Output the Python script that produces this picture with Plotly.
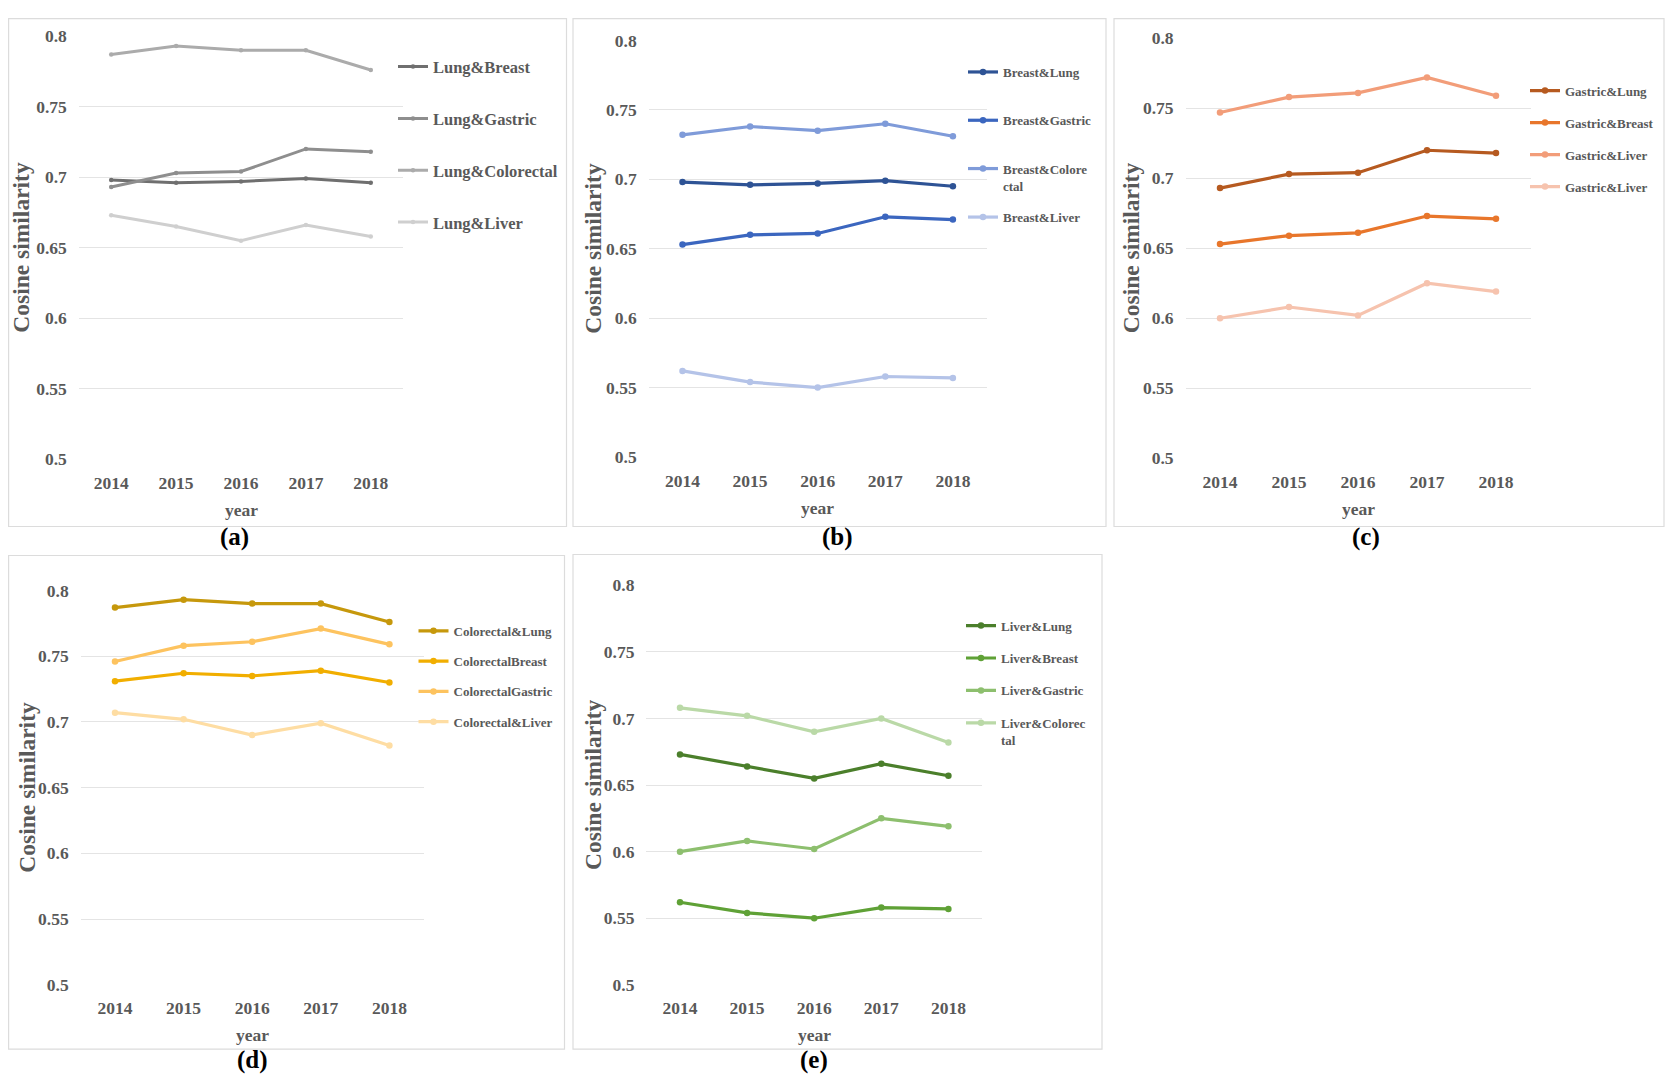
import plotly.graph_objects as go

# page layout: browser body margin is 8px; the figure starts at (8, 8)
OFF = 8
W, H = 1657, 1075
# vertical calibration (maps reference pixel rows to page rows)
Y_A, Y_B = 1.0183, -10.5

# ---------------- data ----------------
years = ["2014", "2015", "2016", "2017", "2018"]
y_tick_vals = [0.5, 0.55, 0.6, 0.65, 0.7, 0.75, 0.8]
y_tick_text = ["0.5", "0.55", "0.6", "0.65", "0.7", "0.75", "0.8"]

lung_names = ["Lung&Breast", "Lung&Gastric", "Lung&Colorectal", "Lung&Liver"]
lung_breast = [0.698, 0.696, 0.697, 0.699, 0.696]
lung_gastric = [0.693, 0.703, 0.704, 0.720, 0.718]
lung_colorectal = [0.787, 0.793, 0.790, 0.790, 0.776]
lung_liver = [0.673, 0.665, 0.655, 0.666, 0.658]

breast_names = ["Breast&Lung", "Breast&Gastric", "Breast&Colore<br>ctal", "Breast&Liver"]
breast_lung = [0.698, 0.696, 0.697, 0.699, 0.695]
breast_gastric = [0.653, 0.660, 0.661, 0.673, 0.671]
breast_colorectal = [0.732, 0.738, 0.735, 0.740, 0.731]
breast_liver = [0.562, 0.554, 0.550, 0.558, 0.557]

gastric_names = ["Gastric&Lung", "Gastric&Breast", "Gastric&Liver", "Gastric&Liver"]
gastric_lung = [0.693, 0.703, 0.704, 0.720, 0.718]
gastric_breast = [0.653, 0.659, 0.661, 0.673, 0.671]
gastric_liver_1 = [0.747, 0.758, 0.761, 0.772, 0.759]
gastric_liver_2 = [0.600, 0.608, 0.602, 0.625, 0.619]

colorectal_names = ["Colorectal&Lung", "ColorectalBreast", "ColorectalGastric", "Colorectal&Liver"]
colorectal_lung = [0.787, 0.793, 0.790, 0.790, 0.776]
colorectal_breast = [0.731, 0.737, 0.735, 0.739, 0.730]
colorectal_gastric = [0.746, 0.758, 0.761, 0.771, 0.759]
colorectal_liver = [0.707, 0.702, 0.690, 0.699, 0.682]

liver_names = ["Liver&Lung", "Liver&Breast", "Liver&Gastric", "Liver&Colorec<br>tal"]
liver_lung = [0.673, 0.664, 0.655, 0.666, 0.657]
liver_breast = [0.562, 0.554, 0.550, 0.558, 0.557]
liver_gastric = [0.600, 0.608, 0.602, 0.625, 0.619]
liver_colorectal = [0.708, 0.702, 0.690, 0.700, 0.682]

panel_labels = ["(a)", "(b)", "(c)", "(d)", "(e)"]

# ---------------- styles ----------------
FONT = "Liberation Serif, Times New Roman, serif"
TXT = "#595959"
GRID = "#e4e4e4"
BOX = "#dcdcdc"


def px(x):
    return (x - OFF) / W


def py(y, clamp=False):
    v = 1 - (Y_A * y + Y_B - OFF) / H
    if clamp:
        v = min(max(v, 0.6 / H), 1 - 0.6 / H)
    return v


panels = [
    dict(series=[lung_breast, lung_gastric, lung_colorectal, lung_liver], names=lung_names,
         colors=["#6f6f6f", "#8e8e8e", "#ababab", "#cfcfcf"],
         x0=78.75, x1=403.25, ytop=36.3, ybot=459.7,
         box=(8.6, 6, 566.5, 527), ytitle_x=21, label=(234, 538),
         legends=[("legend", 393, 49.5, 27.4, 16.5, [0, 1, 2, 3])], msize=4.5, lw=3.0),
    dict(series=[breast_lung, breast_gastric, breast_colorectal, breast_liver], names=breast_names,
         colors=["#2e5395", "#3b66bf", "#7f9bd9", "#b4c3e8"],
         x0=648.7, x1=986.7, ytop=40.6, ybot=457.5,
         box=(573, 6, 1106, 527), ytitle_x=593, label=(837, 538),
         legends=[("legend2", 963, 57.2, 28.4, 13, [0, 1, 2]),
                  ("legend6", 963, 202.4, 28.4, 13, [3])], msize=6.5, lw=3.2),
    dict(series=[gastric_lung, gastric_breast, gastric_liver_1, gastric_liver_2], names=gastric_names,
         colors=["#b65a20", "#e8762b", "#f29d79", "#f6c3ae"],
         x0=1185.5, x1=1530.5, ytop=38.5, ybot=458.6,
         box=(1114, 6, 1664, 527), ytitle_x=1131, label=(1366, 538),
         legends=[("legend3", 1525, 75.8, 12.1, 13, [0, 1, 2, 3])], msize=6.5, lw=3.2),
    dict(series=[colorectal_lung, colorectal_breast, colorectal_gastric, colorectal_liver], names=colorectal_names,
         colors=["#c6980c", "#f1ae00", "#fdc35f", "#fedda3"],
         x0=80.7, x1=423.7, ytop=591.0, ybot=985.6,
         box=(8.6, 556, 564.5, 1050), ytitle_x=27, label=(252.5, 1061),
         legends=[("legend4", 413.5, 616.4, 10.4, 13, [0, 1, 2, 3])], msize=6.5, lw=3.2),
    dict(series=[liver_lung, liver_breast, liver_gastric, liver_colorectal], names=liver_names,
         colors=["#4b7f2b", "#5fa136", "#8dbf6e", "#bad9a7"],
         x0=646.45, x1=981.95, ytop=585.8, ybot=985.6,
         box=(573, 555, 1102, 1050), ytitle_x=593, label=(814, 1061),
         legends=[("legend5", 961, 611.2, 12.5, 13, [0, 1, 2, 3])], msize=6.5, lw=3.2),
]

fig = go.Figure()
shapes = []
annotations = []
layout_updates = {}

for i, p in enumerate(panels):
    n = i + 1
    xa = "x" if n == 1 else f"x{n}"
    ya = "y" if n == 1 else f"y{n}"
    leg_of = {}
    for lid, lx, ly, gap, fsz, idxs in p["legends"]:
        for k in idxs:
            leg_of[k] = lid
        layout_updates[lid] = dict(
            x=px(lx), y=py(ly), xanchor="left", yanchor="top",
            bgcolor="rgba(0,0,0,0)", borderwidth=0, tracegroupgap=gap,
            valign="top", itemwidth=30,
            font=dict(family=FONT, size=fsz, color=TXT, weight="bold"))
    for j, (vals, name, col) in enumerate(zip(p["series"], p["names"], p["colors"])):
        fig.add_trace(go.Scatter(
            x=years, y=vals, name=name, mode="lines+markers",
            line=dict(color=col, width=p["lw"]),
            marker=dict(color=col, size=p["msize"], symbol="circle"),
            xaxis=xa, yaxis=ya, legend=leg_of[j], legendgroup=f"g{n}_{j}",
            cliponaxis=False,
        ))
    xkey = "xaxis" if n == 1 else f"xaxis{n}"
    ykey = "yaxis" if n == 1 else f"yaxis{n}"
    layout_updates[xkey] = dict(
        domain=[px(p["x0"]), px(p["x1"])], anchor=ya, type="category",
        range=[-0.5, 4.5], showgrid=False, zeroline=False, showline=False,
        ticks="", ticklabelstandoff=11,
        tickfont=dict(family=FONT, size=17.5, color=TXT, weight="bold"),
        fixedrange=True)
    layout_updates[ykey] = dict(
        domain=[py(p["ybot"]), py(p["ytop"])], anchor=xa,
        range=[0.5, 0.8], tickvals=y_tick_vals, ticktext=y_tick_text,
        showgrid=True, gridcolor=GRID, gridwidth=1.2, zeroline=False,
        showline=False, ticks="", ticklabelstandoff=11,
        tickfont=dict(family=FONT, size=17.5, color=TXT, weight="bold"),
        fixedrange=True)
    bx0, by0, bx1, by1 = p["box"]
    shapes.append(dict(type="rect", xref="paper", yref="paper",
                       x0=px(bx0), x1=px(bx1), y0=py(by1, True), y1=py(by0, True),
                       line=dict(color=BOX, width=1.2), fillcolor="rgba(0,0,0,0)",
                       layer="below"))
    annotations.append(dict(text="Cosine similarity", xref="paper", yref="paper",
                            x=px(p["ytitle_x"]), y=py((p["ytop"] + p["ybot"]) / 2),
                            textangle=-90, showarrow=False, xanchor="center", yanchor="middle",
                            font=dict(family=FONT, size=23.5, color=TXT, weight="bold")))
    annotations.append(dict(text="year", xref="paper", yref="paper",
                            x=px((p["x0"] + p["x1"]) / 2), y=py(p["ybot"] + 50.5),
                            showarrow=False, xanchor="center", yanchor="middle",
                            font=dict(family=FONT, size=17.5, color=TXT, weight="bold")))
    annotations.append(dict(text=panel_labels[i], xref="paper", yref="paper",
                            x=px(p["label"][0]), y=py(p["label"][1]),
                            showarrow=False, xanchor="center", yanchor="middle",
                            font=dict(family=FONT, size=25, color="#000000", weight="bold")))

fig.update_layout(
    width=W, height=H,
    margin=dict(l=0, r=0, t=0, b=0),
    paper_bgcolor="white", plot_bgcolor="rgba(0,0,0,0)",
    shapes=shapes, annotations=annotations,
    showlegend=True,
    **layout_updates,
)

fig.write_html("out.html")
